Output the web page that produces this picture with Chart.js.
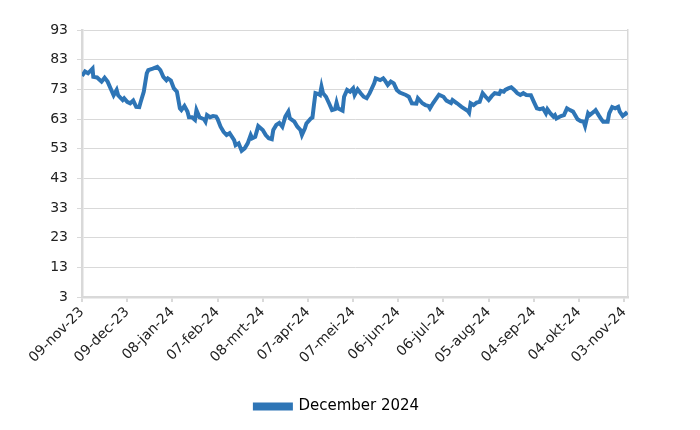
<!DOCTYPE html>
<html>
<head>
<meta charset="utf-8">
<script src="https://cdn.jsdelivr.net/npm/chart.js@4"></script>
<style>
  html, body { margin: 0; padding: 0; background: #fff; }
</style>
</head>
<body>
<canvas id="chart" width="700" height="430"></canvas>
<script>
// day offset from 09-nov-23 and value
const days = [0, 2, 4, 7, 7.5, 10, 13, 15, 17, 19, 21, 23, 24, 27, 28, 30, 32, 34, 36, 38, 39, 41, 43, 44, 47, 50,
  52, 54, 56, 57, 59, 61, 63, 64, 65, 66, 68, 70, 71, 73, 75, 76, 78, 81, 82, 83, 85, 87, 89, 90, 92, 94,
  96, 98, 101, 102, 104, 106, 108, 110, 112, 113, 115, 117, 120, 122, 124, 126, 127, 129, 131, 133, 135,
  137, 138, 141, 143, 145, 146, 148, 149, 152, 153, 154, 155, 157, 158, 159, 160, 162, 164, 166, 168,
  169, 170, 173, 174, 176, 178, 180, 181, 183, 185, 187, 189, 191, 194, 195, 198, 200, 201, 203, 205,
  207, 209, 211, 215, 217, 219, 222, 223, 226, 228, 230, 231, 233, 237, 240, 242, 245, 246, 249, 252,
  256, 257, 258, 260, 262, 264, 266, 268, 270, 272, 274, 277, 278, 280, 281, 283, 285, 287, 289, 291,
  293, 295, 298, 300, 302, 304, 306, 308, 309, 311, 313, 314, 315, 318, 320, 322, 324, 326, 329, 331,
  333, 334, 336, 337, 340, 341, 343, 345, 346, 349, 350, 352, 354, 356, 357, 359, 361, 362];
const values = [77.5, 79, 78.4, 80, 77.2, 77, 75.6, 76.9, 75.6, 73.3, 71, 72.8, 71, 69.4, 70, 68.8, 68.3, 69.2, 67.1, 67, 68.8, 72.2, 78.4, 79.5, 80, 80.6,
  79.5, 77.2, 76.1, 76.7, 76, 73.3, 72.2, 69.4, 66.6, 66, 67.4, 65.5, 63.6, 63.6, 62.7, 66, 63.6, 62.9, 62.1, 64.3, 63.6, 64, 63.8, 63, 60.4, 58.7,
  57.6, 58.2, 55.9, 54.2, 54.8, 52.3, 53.1, 54.8, 57.6, 56.5, 57, 60.6, 59.3, 57.6, 56.5, 56.2, 59.3, 61, 61.7, 60.4, 63.8,
  65.5, 63.2, 62.1, 60.4, 59.3, 57.6, 59.9, 61.5, 63.2, 63.5, 67.7, 71.7, 71.4, 71.1, 73.9, 71.7, 70.5, 68.3, 66, 66.3,
  68.5, 66.6, 65.8, 70.5, 72.8, 72.2, 73.3, 71.1, 73, 71.7, 70.5, 70, 71.7, 75, 76.7, 76.1, 76.7, 76.1, 74.5, 75.6,
  75, 72.8, 71.9, 71.1, 70.5, 68.3, 68.2, 70, 68.3, 67.7, 67.4, 66.6, 68.3, 71.2, 70.5, 69.2, 68.4, 69.4, 68.3, 67.1,
  65.8, 65.1, 68.3, 67.7, 68.5, 68.8, 71.7, 70.5, 69.4, 70.7, 71.7, 71.4, 72.5, 72.2, 72.8, 73.3, 73.7, 72.8, 71.7, 71.1,
  71.7, 71.1, 71, 68.8, 66.6, 66.3, 66.6, 64.9, 66.3, 64.9, 63.8, 64.3, 63.2, 64, 64.3, 66.6, 66, 65.5, 62.9, 62.3,
  62.1, 60.6, 64.9, 64.3, 65.5, 66, 64.3, 62.7, 62.1, 62.1, 64.9, 67, 66.6, 67.1, 65.5, 64, 64.9, 64.3];
const tickDays = [0, 30, 60, 90, 120, 150, 180, 210, 240, 270, 300, 330, 360];
const tickLabels = ['09-nov-23', '09-dec-23', '08-jan-24', '07-feb-24', '08-mrt-24', '07-apr-24', '07-mei-24',
  '06-jun-24', '06-jul-24', '05-aug-24', '04-sep-24', '04-okt-24', '03-nov-24'];
const yTicks = [3, 13, 23, 33, 43, 53, 63, 73, 83, 93];

const lineColor = '#2e75b6';
const gridColor = '#d9d9d9';
const font = { family: '"DejaVu Sans", sans-serif', size: 14 };

const points = days.map((d, i) => ({ x: d, y: values[i] }));

new Chart(document.getElementById('chart'), {
  type: 'line',
  data: {
    datasets: [{
      label: 'December 2024',
      data: points,
      borderColor: lineColor,
      backgroundColor: lineColor,
      borderWidth: 4,
      pointRadius: 0,
      tension: 0,
      fill: false
    }]
  },
  options: {
    responsive: false,
    animation: false,
    devicePixelRatio: 1,
    layout: { padding: { left: 22, right: 48, top: 30, bottom: 6 } },
    plugins: {
      tooltip: { enabled: false },
      legend: {
        position: 'bottom',
        labels: {
          font: { family: font.family, size: 15 },
          color: '#000',
          boxWidth: 36,
          boxHeight: 4,
          padding: 10
        }
      }
    },
    scales: {
      x: {
        type: 'linear',
        min: 0,
        max: 362.5,
        afterFit: s => { s.height = 92; },
        afterBuildTicks: s => { s.ticks = tickDays.map(v => ({ value: v })); },
        ticks: {
          font: font,
          color: '#222',
          minRotation: 45,
          maxRotation: 45,
          padding: 2,
          autoSkip: false,
          callback: (v) => tickLabels[tickDays.indexOf(v)]
        },
        grid: { drawOnChartArea: false, color: gridColor, lineWidth: 2, tickLength: 5 },
        border: { color: gridColor, width: 2.5 }
      },
      y: {
        min: 3,
        max: 93,
        afterFit: s => { s.width = 60; },
        afterBuildTicks: s => { s.ticks = yTicks.map(v => ({ value: v })); },
        ticks: { font: font, color: '#222', padding: 9 },
        grid: { color: gridColor, lineWidth: 1, tickLength: 5 },
        border: { color: gridColor, width: 2.5 }
      },
      y2: {
        position: 'right',
        min: 3,
        max: 93,
        afterFit: s => { s.width = 24; },
        ticks: { display: false },
        grid: { drawOnChartArea: false, drawTicks: false },
        border: { color: gridColor, width: 1.5 }
      }
    }
  }
});
</script>
</body>
</html>
